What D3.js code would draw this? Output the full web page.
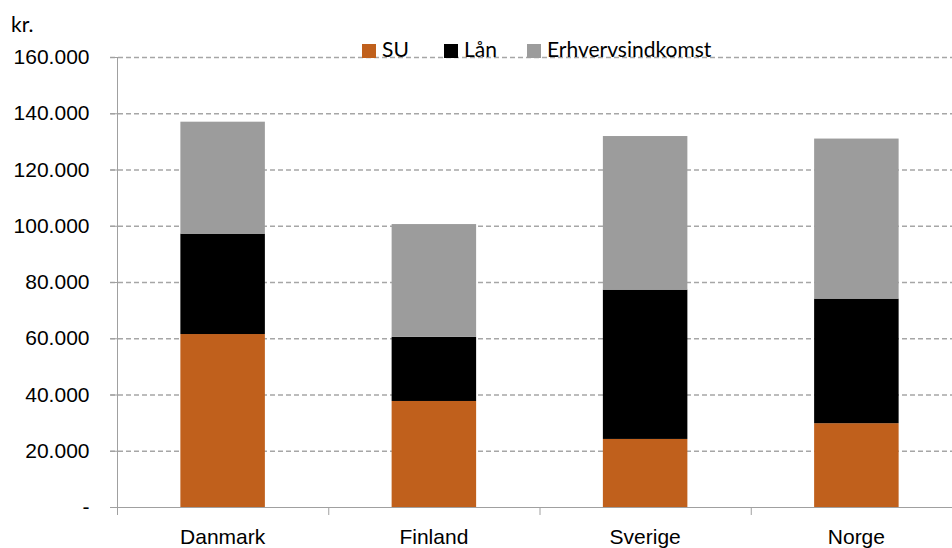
<!DOCTYPE html>
<html>
<head>
<meta charset="utf-8">
<script src="https://cdn.jsdelivr.net/npm/d3@7"></script>
<style>
  body { margin: 0; background: #fff; }
  svg { display: block; font-family: Lato, "Open Sans", sans-serif; }
  .tick text { font-size: 21px; fill: #000; }
</style>
</head>
<body>
<script>
// data
var countries = ['Danmark', 'Finland', 'Sverige', 'Norge'];
var su = [61500, 37700, 24200, 29800];
var laan = [35700, 22800, 53100, 44300];
var erhverv = [39800, 40100, 54600, 56900];
var seriesNames = ['SU', 'Lån', 'Erhvervsindkomst'];
var yTicks = [0, 20000, 40000, 60000, 80000, 100000, 120000, 140000, 160000];

var colors = ['#c0601c', '#000000', '#9c9c9c'];

const w = 952;
const h = 548;
const plotLeft = 117, plotRight = 962, plotTop = 57, plotBottom = 507;

var rows = countries.map(function(c, i) {
	return { country: c, 'SU': su[i], 'Lån': laan[i], 'Erhvervsindkomst': erhverv[i] };
});
var stacked = d3.stack().keys(seriesNames)(rows);

var loc = d3.formatLocale({ decimal: ',', thousands: '.', grouping: [3], currency: ['', ''] });
var fmt = loc.format(',.0f');

var xScale = d3.scaleBand()
	.domain(countries)
	.range([plotLeft, plotRight])
	.paddingInner(0.6)
	.paddingOuter(0.3);

var yScale = d3.scaleLinear()
	.domain([0, 160000])
	.range([plotBottom, plotTop]);

var chart = d3.select('body').append('svg')
	.attr('width', w)
	.attr('height', h);

// gridlines
chart.append('g')
	.selectAll('line')
	.data(yTicks.filter(function(d) { return d > 0; }))
	.enter().append('line')
	.attr('x1', plotLeft - 7)
	.attr('x2', w)
	.attr('y1', function(d) { return yScale(d) + 0.5; })
	.attr('y2', function(d) { return yScale(d) + 0.5; })
	.attr('stroke', '#a6a6a6')
	.attr('stroke-width', 1.3)
	.attr('stroke-dasharray', '5,3');

// bars
chart.append('g')
	.selectAll('g')
	.data(stacked)
	.enter().append('g')
	.attr('fill', function(d, i) { return colors[i]; })
	.selectAll('rect')
	.data(function(d) { return d; })
	.enter().append('rect')
	.attr('x', function(d) { return xScale(d.data.country); })
	.attr('y', function(d) { return yScale(d[1]); })
	.attr('width', xScale.bandwidth())
	.attr('height', function(d) { return yScale(d[0]) - yScale(d[1]); });

// y axis
var yAxis = d3.axisLeft(yScale)
	.tickValues(yTicks)
	.tickSize(7)
	.tickPadding(21)
	.tickFormat(function(d) { return d === 0 ? '-' : fmt(d); });

var yg = chart.append('g')
	.attr('transform', 'translate(' + (plotLeft + 0.5) + ',0)')
	.call(yAxis);
yg.select('.domain').attr('stroke', '#a0a0a0').attr('d', 'M0,' + plotTop + 'V' + plotBottom);
yg.selectAll('.tick line').attr('stroke', '#a0a0a0');

// x axis, ticks sit between the categories
var xAxis = d3.axisBottom(xScale).tickSize(0).tickPadding(22);
var xg = chart.append('g')
	.attr('transform', 'translate(0,' + (plotBottom + 0.5) + ')')
	.call(xAxis);
xg.select('.domain').attr('stroke', '#a0a0a0').attr('d', 'M' + (plotLeft - 7) + ',0H' + w);
xg.selectAll('.tick text').attr('dy', '0.71em');

chart.append('g')
	.selectAll('line')
	.data(countries)
	.enter().append('line')
	.attr('x1', function(d) { return xScale(d) - xScale.step() * 0.3 + 0.5; })
	.attr('x2', function(d) { return xScale(d) - xScale.step() * 0.3 + 0.5; })
	.attr('y1', plotBottom)
	.attr('y2', plotBottom + 8)
	.attr('stroke', '#a0a0a0');

// unit label
chart.append('text')
	.attr('x', 11)
	.attr('y', 32)
	.attr('font-size', 21)
	.text('kr.');

// legend
var legendX = [362, 444, 527];
var legend = chart.append('g')
	.selectAll('g')
	.data(seriesNames)
	.enter().append('g')
	.attr('transform', function(d, i) { return 'translate(' + legendX[i] + ',44)'; });

legend.append('rect')
	.attr('width', 14)
	.attr('height', 14)
	.attr('fill', function(d, i) { return colors[i]; });

legend.append('text')
	.attr('x', 20)
	.attr('y', 13)
	.attr('font-size', 21)
	.text(function(d) { return d; });
</script>
</body>
</html>
